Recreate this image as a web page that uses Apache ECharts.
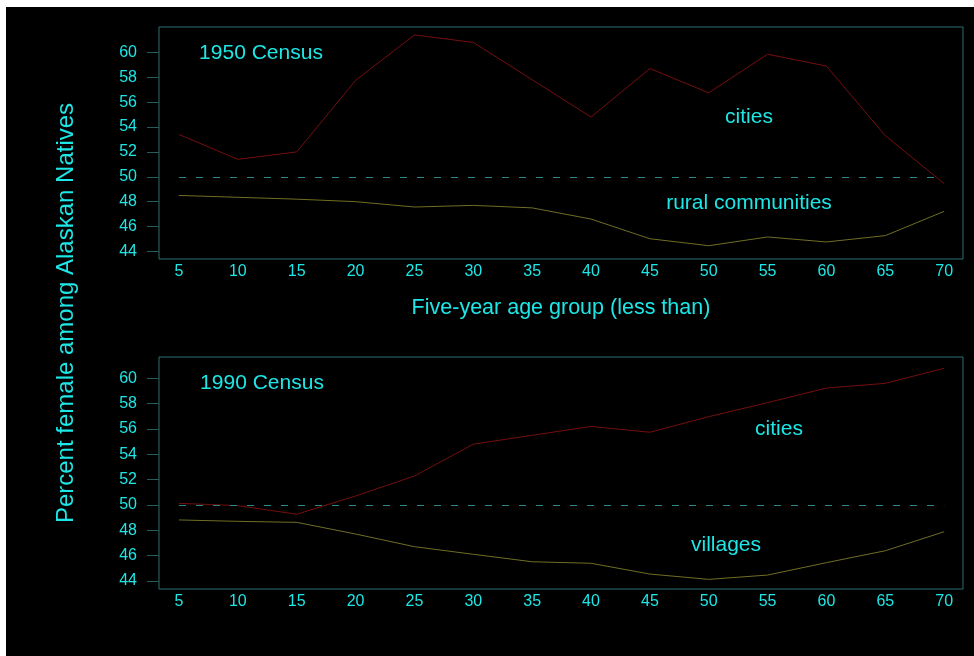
<!DOCTYPE html>
<html>
<head>
<meta charset="utf-8">
<script src="https://cdn.jsdelivr.net/npm/echarts@6/dist/echarts.min.js"></script>
<style>
  html, body { margin: 0; padding: 0; background: #ffffff; }
  #panel { position: absolute; left: 6px; top: 7px; width: 968px; height: 649px; background: #000000; }
  #chart { position: absolute; left: 0; top: 0; width: 974px; height: 656px; }
</style>
</head>
<body>
<div id="panel"></div>
<div id="chart"></div>
<script>
// Five-year age groups (upper bound)
const ageGroups = [5, 10, 15, 20, 25, 30, 35, 40, 45, 50, 55, 60, 65, 70];

// 1950 Census: percent female
const cities1950 = [53.4, 51.4, 52.0, 57.75, 61.4, 60.8, 57.8, 54.8, 58.7, 56.75, 59.85, 58.9, 53.3, 49.45];
const rural1950  = [48.5, 48.35, 48.2, 48.0, 47.57, 47.7, 47.5, 46.6, 45.02, 44.46, 45.16, 44.76, 45.27, 47.22];

// 1990 Census: percent female
const cities1990   = [50.13, 49.95, 49.27, 50.71, 52.29, 54.8, 55.5, 56.2, 55.74, 56.97, 58.08, 59.23, 59.6, 60.79];
const villages1990 = [48.82, 48.71, 48.63, 47.71, 46.71, 46.11, 45.52, 45.4, 44.55, 44.13, 44.47, 45.45, 46.39, 47.89];

// Axis ticks
const yTicks = [44, 46, 48, 50, 52, 54, 56, 58, 60];
const xTicks = [5, 10, 15, 20, 25, 30, 35, 40, 45, 50, 55, 60, 65, 70];
const parity = 50;

const CYAN = '#1ee6e6';
const FRAME = '#2d6e6e';
const TICK = '#245c5c';
const RED = '#760e0e';
const OLIVE = '#706e24';
const FONT = '"Liberation Sans", Arial, sans-serif';

const pair = (xs, ys) => xs.map((x, i) => [x, ys[i]]);

function xAxisFor(gridIndex) {
  return {
    type: 'value', gridIndex, min: 3.3, max: 71.6,
    axisLine: { show: false },
    axisTick: { show: false },
    splitLine: { show: false },
    axisLabel: {
      customValues: xTicks, color: CYAN, fontSize: 16, fontFamily: FONT, margin: 5
    }
  };
}
function yAxisFor(gridIndex, min, max) {
  return {
    type: 'value', gridIndex, min, max,
    axisLine: { show: false },
    axisTick: { show: true, customValues: yTicks, length: 12, inside: false, lineStyle: { color: TICK, width: 1 } },
    splitLine: { show: false },
    axisLabel: {
      customValues: yTicks, color: CYAN, fontSize: 16, fontFamily: FONT, margin: 22
    }
  };
}
function lineSeries(name, idx, data, color, withRef) {
  const s = {
    name, type: 'line', xAxisIndex: idx, yAxisIndex: idx,
    data, symbol: 'none', smooth: false, silent: true,
    lineStyle: { color, width: 1 }
  };
  if (withRef) {
    s.markLine = {
      silent: true, symbol: 'none', label: { show: false },
      lineStyle: { color: '#2f8888', type: [7, 10], width: 1 },
      data: [[{ coord: [xTicks[0], parity] }, { coord: [xTicks[xTicks.length - 1], parity] }]]
    };
  }
  return s;
}
function label(text, x, y, size, rotation) {
  return {
    type: 'text', x, y, rotation: rotation || 0,
    style: { text, fill: CYAN, font: size + 'px ' + FONT, textAlign: 'center', textVerticalAlign: 'middle' }
  };
}

const chart = echarts.init(document.getElementById('chart'), null, { renderer: 'canvas' });
chart.setOption({
  backgroundColor: 'transparent',
  animation: false,
  grid: [
    { left: 159, top: 27, width: 804, height: 232, show: true, borderColor: FRAME, borderWidth: 1, backgroundColor: 'transparent' },
    { left: 159, top: 357, width: 804, height: 232, show: true, borderColor: FRAME, borderWidth: 1, backgroundColor: 'transparent' }
  ],
  xAxis: [xAxisFor(0), xAxisFor(1)],
  yAxis: [yAxisFor(0, 43.39, 62.04), yAxisFor(1, 43.37, 61.68)],
  series: [
    lineSeries('cities 1950', 0, pair(ageGroups, cities1950), RED, true),
    lineSeries('rural communities 1950', 0, pair(ageGroups, rural1950), OLIVE, false),
    lineSeries('cities 1990', 1, pair(ageGroups, cities1990), RED, true),
    lineSeries('villages 1990', 1, pair(ageGroups, villages1990), OLIVE, false)
  ],
  graphic: [
    label('1950 Census', 261, 53, 21),
    label('cities', 749, 117, 21),
    label('rural communities', 749, 203, 21),
    label('1990 Census', 262, 383, 21),
    label('cities', 779, 429, 21),
    label('villages', 726, 545, 21),
    label('Five-year age group (less than)', 561, 308, 21.5),
    label('Percent female among Alaskan Natives', 66, 313, 24, Math.PI / 2)
  ]
});
</script>
</body>
</html>
